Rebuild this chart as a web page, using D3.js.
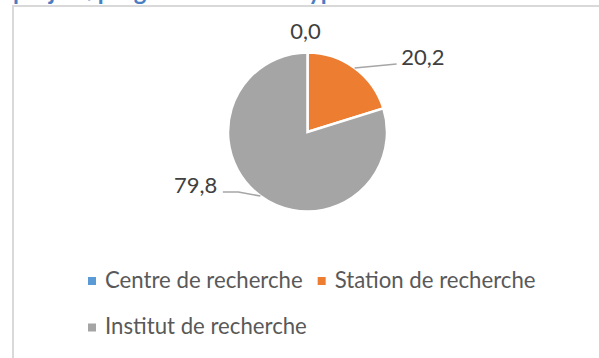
<!DOCTYPE html>
<html>
<head>
<meta charset="utf-8">
<script src="https://cdn.jsdelivr.net/npm/d3@7"></script>
<style>
  html, body { margin: 0; padding: 0; background: #ffffff; overflow: hidden; }
  svg { display: block; }
</style>
</head>
<body>
<div id="chart"></div>
<script>
// Projects by type of structure (percent)
const categories = ["Centre de recherche", "Station de recherche", "Institut de recherche"];
const values = [0.0, 20.2, 79.8];
const colors = ["#5B9BD5", "#ED7D31", "#A5A5A5"];
const titleText = "projets/programmes selon type de structure";

const W = 599, H = 358;
const fontFamily = "Lato, 'Open Sans', sans-serif";

const svg = d3.select("#chart").append("svg")
  .attr("width", W).attr("height", H);

// Heading above the chart frame (mostly above the visible area)
svg.append("text")
  .attr("x", 13).attr("y", 0)
  .attr("font-family", fontFamily)
  .attr("font-weight", "bold")
  .attr("font-size", 24)
  .attr("fill", "#4A7EC2")
  .text(titleText);

// Chart frame
svg.append("rect")
  .attr("x", 13).attr("y", 6)
  .attr("width", W + 10).attr("height", H + 10)
  .attr("fill", "#ffffff")
  .attr("stroke", "#D9D9D9")
  .attr("stroke-width", 2);

// Pie
const cx = 307.5, cy = 132, r = 79.5;
const pie = d3.pie().sort(null).value(d => d);
const arcs = pie(values);
const arc = d3.arc().innerRadius(0).outerRadius(r);

const g = svg.append("g").attr("transform", `translate(${cx},${cy})`);

g.selectAll("path.slice")
  .data(arcs)
  .join("path")
  .attr("class", "slice")
  .attr("d", arc)
  .attr("fill", (d, i) => colors[i])
  .attr("stroke", "#ffffff")
  .attr("stroke-width", 2.5)
  .attr("stroke-linejoin", "miter");

// Data labels with leader lines, placed relative to each slice's outer midpoint
const labelLayout = [
  { leader: null, text: [-2, -13.5], anchor: "middle" },
  { leader: [[42, -4]], text: [46.5, -3], anchor: "start" },
  { leader: [[-22, -4], [-37.5, -4]], text: [-43, -3.5], anchor: "end" }
];

const fmt = v => v.toFixed(1).replace(".", ",");

arcs.forEach((d, i) => {
  const a = (d.startAngle + d.endAngle) / 2;
  const p = [r * Math.sin(a), -r * Math.cos(a)];
  const L = labelLayout[i];
  if (L.leader) {
    const pts = [p].concat(L.leader.map(o => [p[0] + o[0], p[1] + o[1]]));
    g.append("path")
      .attr("d", d3.line()(pts))
      .attr("fill", "none")
      .attr("stroke", "#A6A6A6")
      .attr("stroke-width", 1.5);
  }
  g.append("text")
    .attr("x", p[0] + L.text[0])
    .attr("y", p[1] + L.text[1])
    .attr("text-anchor", L.anchor)
    .attr("font-family", fontFamily)
    .attr("font-size", 22)
    .attr("fill", "#404040")
    .text(fmt(values[i]));
});

// Legend: two items on the first row, wrapping to a second row
const legend = svg.append("g");
const legendRows = [[0, 1], [2]];
const legendX0 = 88, rowBase = [287.5, 334], sq = 8, gapText = 9, gapItem = 15;

legendRows.forEach((row, ri) => {
  let x = legendX0;
  row.forEach(idx => {
    legend.append("rect")
      .attr("x", x).attr("y", rowBase[ri] - 10.5)
      .attr("width", sq).attr("height", sq)
      .attr("fill", colors[idx]);
    const t = legend.append("text")
      .attr("x", x + sq + gapText)
      .attr("y", rowBase[ri])
      .attr("font-family", fontFamily)
      .attr("font-size", 22.2)
      .attr("fill", "#595959")
      .text(categories[idx]);
    x += sq + gapText + t.node().getComputedTextLength() + gapItem;
  });
});
</script>
</body>
</html>
